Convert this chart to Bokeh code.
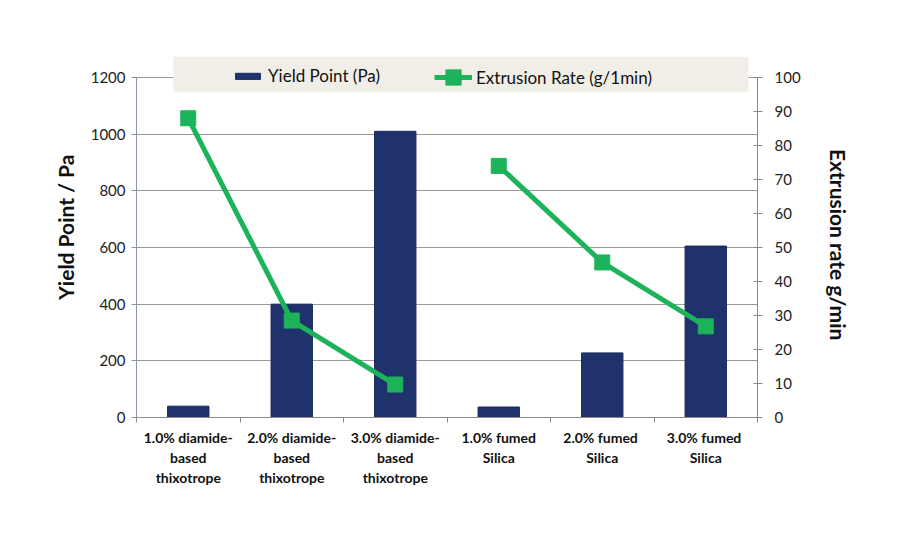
from bokeh.plotting import figure
from bokeh.models import (Range1d, LinearAxis, CategoricalAxis, FactorRange, Legend,
                          LegendItem, BoxAnnotation, FixedTicker, ColumnDataSource)
from bokeh.embed import file_html
from bokeh.resources import INLINE

categories = [
    "1.0% diamide-\nbased\nthixotrope",
    "2.0% diamide-\nbased\nthixotrope",
    "3.0% diamide-\nbased\nthixotrope",
    "1.0% fumed\nSilica",
    "2.0%  fumed\nSilica",
    "3.0%  fumed\nSilica",
]
yield_point = [40, 400, 1010, 37, 228, 605]
extrusion_rate = [88, 28.5, 9.7, 74, 45.6, 26.8]
left_ticks = [0, 200, 400, 600, 800, 1000, 1200]
right_ticks = [0, 10, 20, 30, 40, 50, 60, 70, 80, 90, 100]
boundary_ticks = [0, 1, 2, 3, 4, 5, 6]

FONT = "Lato"
NAVY = "#1f326c"
GREEN = "#1db35a"

# frame extends a little above the 1200 / 100 top so the legend band can overlap it
TOP_L = 1274
TOP_R = TOP_L / 12.0

p = figure(width=884, height=534, x_range=FactorRange(*categories, range_padding=0),
           y_range=Range1d(0, TOP_L), output_backend="svg", toolbar_location=None,
           x_axis_location=None,
           min_border_left=136, min_border_right=127, min_border_top=56,
           min_border_bottom=117)
p.outline_line_color = None
p.background_fill_color = "white"
p.extra_y_ranges = {"rate": Range1d(0, TOP_R)}

src = ColumnDataSource(dict(cat=categories, yp=yield_point, er=extrusion_rate))
bars = p.vbar(x="cat", top="yp", width=0.4, source=src, fill_color=NAVY,
              line_color="#1a2a5c", line_width=1)

s1 = ColumnDataSource(dict(cat=categories[:3], er=extrusion_rate[:3]))
s2 = ColumnDataSource(dict(cat=categories[3:], er=extrusion_rate[3:]))
l1 = p.line(x="cat", y="er", source=s1, y_range_name="rate", line_color=GREEN, line_width=5)
l2 = p.line(x="cat", y="er", source=s2, y_range_name="rate", line_color=GREEN, line_width=5)
m1 = p.scatter(x="cat", y="er", source=s1, y_range_name="rate", marker="square",
               size=15, fill_color=GREEN, line_color=GREEN)
m2 = p.scatter(x="cat", y="er", source=s2, y_range_name="rate", marker="square",
               size=15, fill_color=GREEN, line_color=GREEN)

# grid
p.ygrid.grid_line_color = "#9a9a9a"
p.ygrid.grid_line_width = 1
p.ygrid.ticker = FixedTicker(ticks=left_ticks)

# beige legend band
band = BoxAnnotation(left=0.357, right=5.913, top=TOP_L, bottom=1150,
                     fill_color="#f0eee6", fill_alpha=1, line_color=None)
p.add_layout(band)

# left axis
ya = p.yaxis[0]
ya.ticker = FixedTicker(ticks=left_ticks)
ya.bounds = (0, 1200)
ya.axis_label = "\u00a0" * 4 + "Yield Point / Pa"
ya.axis_label_text_font = FONT
ya.axis_label_text_font_style = "bold"
ya.axis_label_text_font_size = "21px"
ya.axis_label_text_color = "#111111"
ya.axis_label_standoff = 10
ya.major_label_text_font = FONT
ya.major_label_text_font_size = "15px"
ya.major_label_text_color = "#222222"
ya.axis_line_color = "#8a96a8"
ya.major_tick_line_color = "#8a96a8"
ya.major_tick_in = 4
ya.major_tick_out = 5
ya.minor_tick_line_color = None
ya.major_label_standoff = 6

# right axis
ra = LinearAxis(y_range_name="rate", ticker=FixedTicker(ticks=right_ticks), bounds=(0, 100))
ra.axis_label = "\u00a0" * 3 + "Extrusion rate g/min"
ra.axis_label_orientation = "vertical"
ra.axis_label_text_font = FONT
ra.axis_label_text_font_style = "bold"
ra.axis_label_text_font_size = "21px"
ra.axis_label_text_color = "#111111"
ra.axis_label_standoff = 22
ra.major_label_text_font = FONT
ra.major_label_text_font_size = "15px"
ra.major_label_text_color = "#222222"
ra.axis_line_color = "#8a8a8a"
ra.major_tick_line_color = "#8a8a8a"
ra.major_tick_in = 4
ra.major_tick_out = 5
ra.minor_tick_line_color = None
ra.major_label_standoff = 12
p.add_layout(ra, "right")

# x axis: line + boundary ticks (synthetic coordinates of the factor range)
bx = LinearAxis(ticker=FixedTicker(ticks=boundary_ticks),
                major_label_overrides={t: "" for t in boundary_ticks},
                major_label_text_font_size="1px", major_label_standoff=0,
                axis_line_color="#8a8a8a", major_tick_line_color="#8a8a8a",
                major_tick_in=0, major_tick_out=5, minor_tick_line_color=None)
p.add_layout(bx, "below")

# x axis: category labels
xa = CategoricalAxis(axis_line_color=None, major_tick_line_color=None,
                     minor_tick_line_color=None)
xa.major_label_text_font = FONT
xa.major_label_text_font_style = "bold"
xa.major_label_text_font_size = "14px"
xa.major_label_text_color = "#111111"
xa.major_label_standoff = 0
xa.major_label_orientation = "horizontal"
p.add_layout(xa, "below")
p.xgrid.grid_line_color = None

leg1 = Legend(items=[LegendItem(label="Yield Point (Pa)", renderers=[bars])],
              orientation="horizontal", location=(96, 331),
              background_fill_alpha=0, border_line_color=None,
              padding=0, margin=0, glyph_width=31, glyph_height=8,
              label_standoff=5, label_text_font=FONT, label_text_font_size="17px",
              label_text_color="#111111")
leg2 = Legend(items=[LegendItem(label="Extrusion Rate (g/1min)", renderers=[l1, m1])],
              orientation="horizontal", location=(298, 321),
              background_fill_alpha=0, border_line_color=None,
              padding=0, margin=0, glyph_width=38, glyph_height=38,
              label_standoff=4, label_text_font=FONT, label_text_font_size="17px",
              label_text_color="#111111")
p.add_layout(leg1, "center")
p.add_layout(leg2, "center")

open("out.html", "w").write(file_html(p, INLINE))
